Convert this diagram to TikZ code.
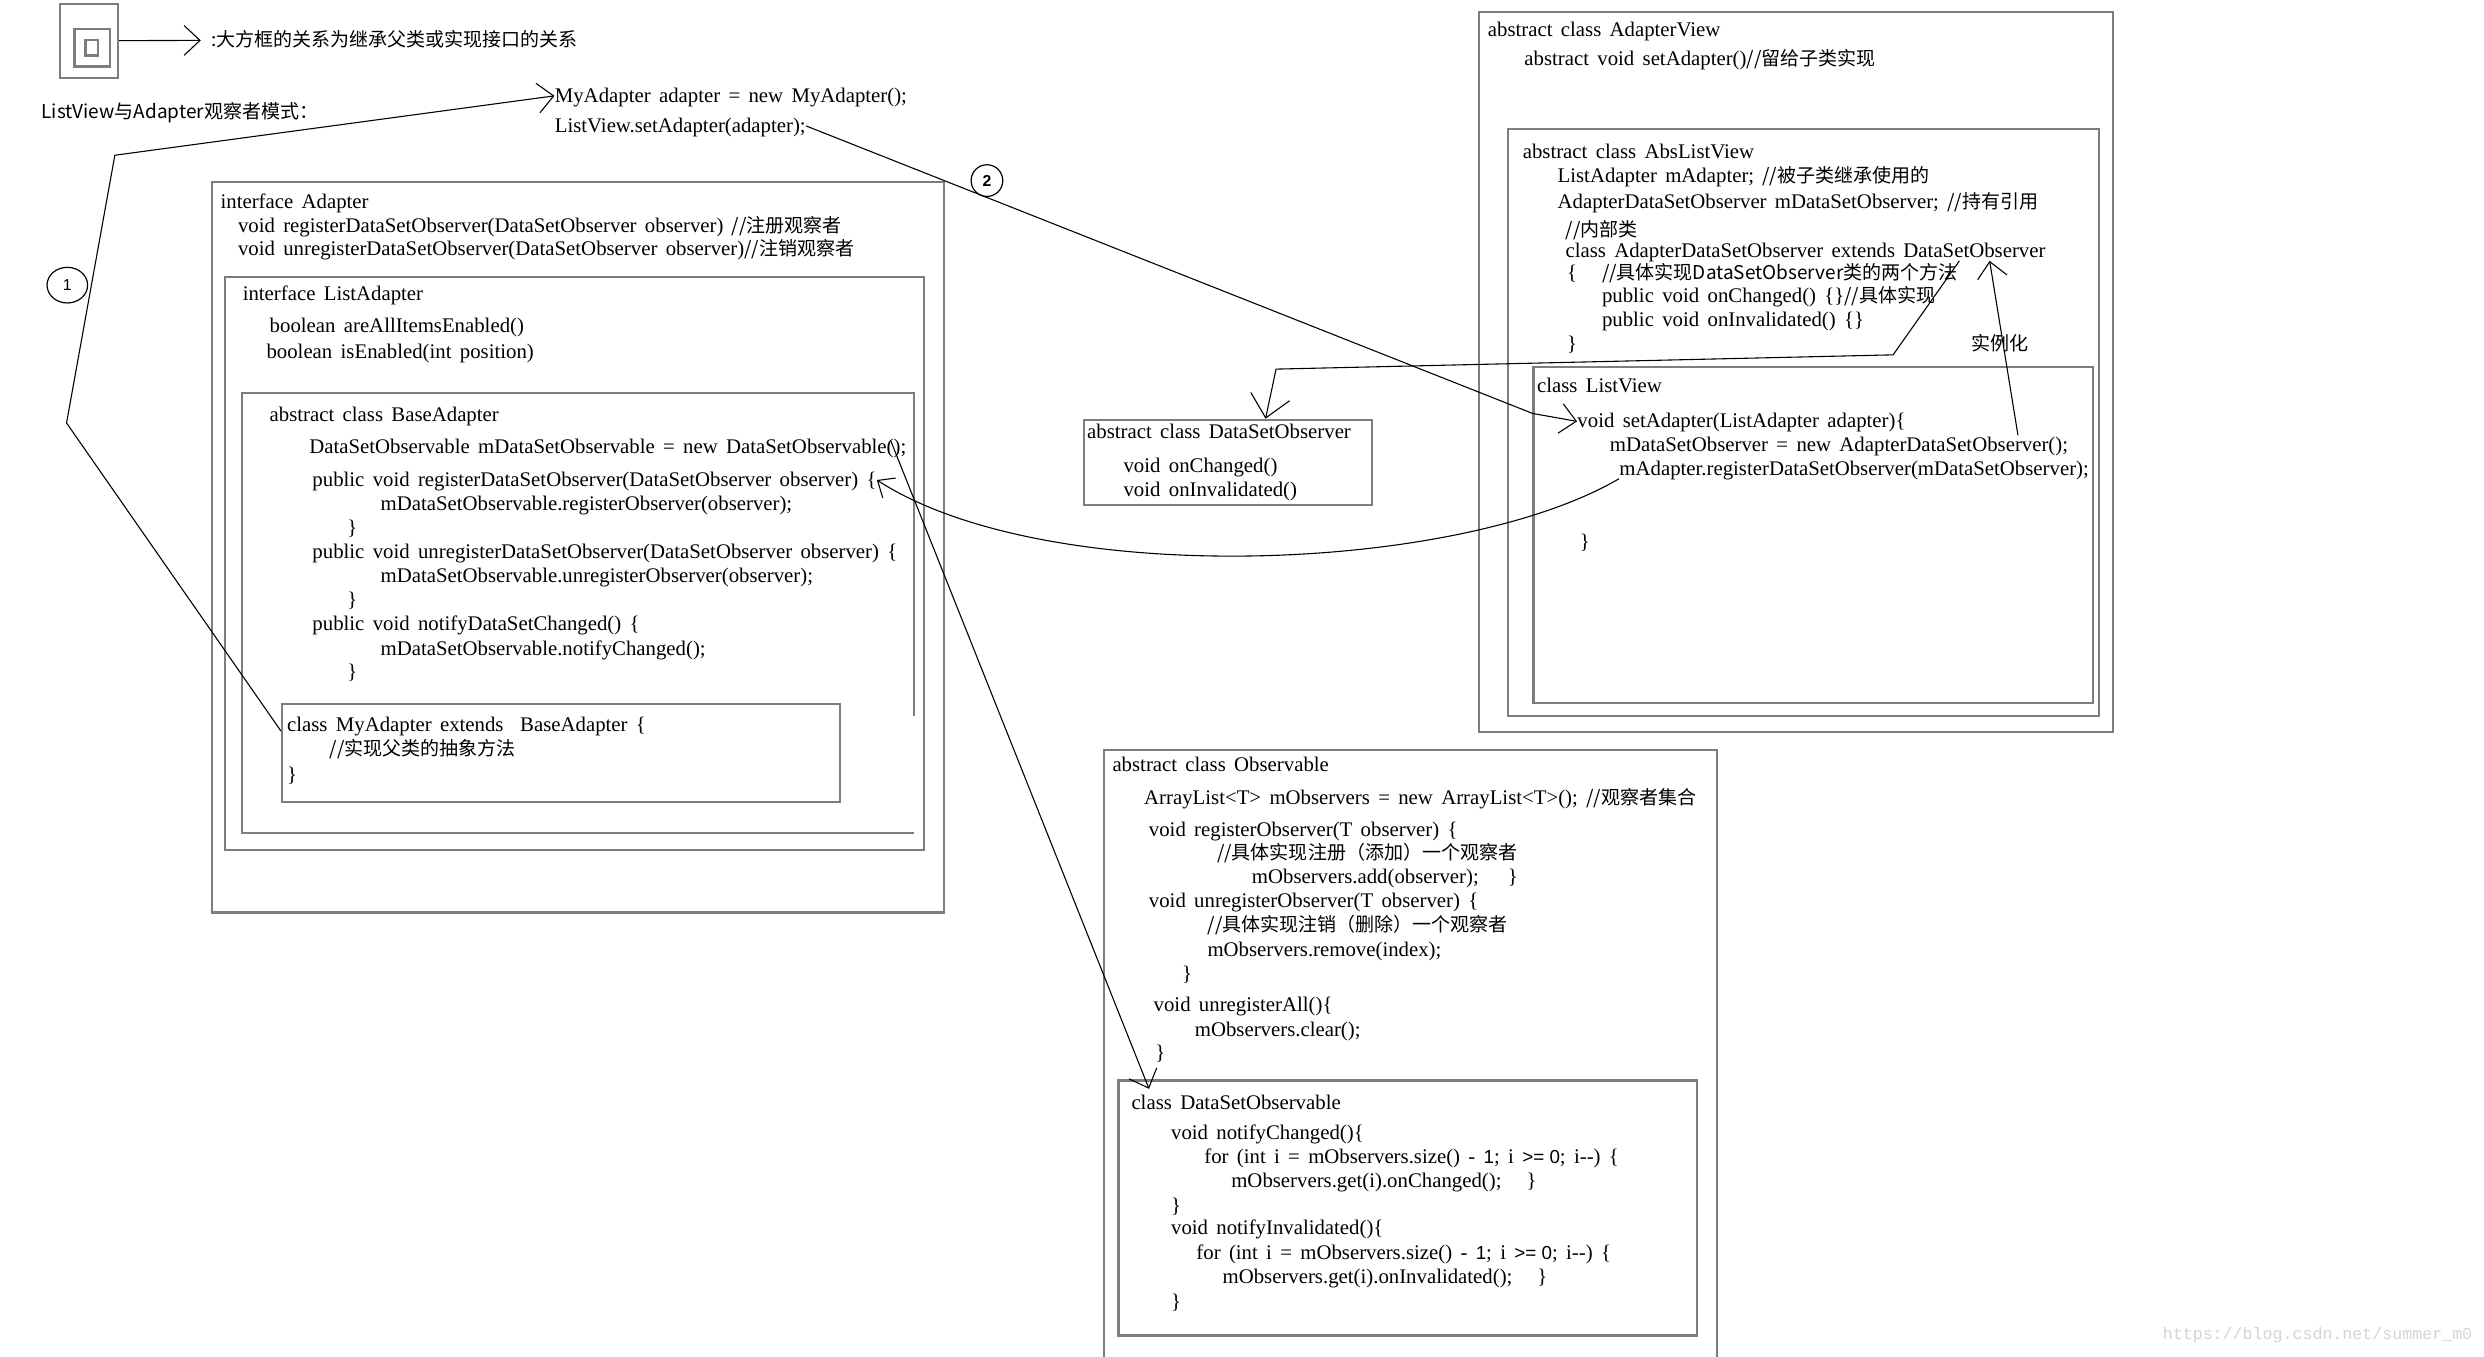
\documentclass[tikz,border=0pt]{standalone}
\usepackage{fontspec}
\setmainfont{Liberation Serif}[WordSpace=1.6]
\newfontfamily\cjk{Noto Sans CJK SC}
\newfontfamily\sansf{Liberation Sans}
\newfontfamily\monof{Liberation Mono}
\usetikzlibrary{arrows.meta,fit,calc,shapes.geometric}
\newcommand\zhtxt[1]{{\cjk\fontsize{9.6}{11}\selectfont #1}}
\newcommand\sfd[1]{{\sansf\fontsize{9.5}{11}\selectfont #1}}
\definecolor{boxgray}{RGB}{125,125,125}
\definecolor{wmgray}{RGB}{215,212,208}
\begin{document}
\begin{tikzpicture}[x=0.8pt,y=-0.8pt,
  gbox/.style={draw=boxgray, line width=1.1pt, inner sep=0pt},
  txt/.style={anchor=west, inner sep=0pt, text height=8pt, text depth=1.5pt, font=\fontsize{10.5}{12}\selectfont},
  conn/.style={draw=black, line width=0.55pt},
  barb/.style={-{Straight Barb[length=8pt,width=15pt]}},
  numc/.style={draw=black, line width=0.6pt, inner sep=0pt, font=\sansf\fontsize{8}{9}\selectfont}
]
\fill[white] (0,0) rectangle (1568,856);
\useasboundingbox (0,0) rectangle (1568,856);

% ---------- legend ----------
\node[gbox, fit={(38,2.3)(74.5,49)}] (legout) {};
\node[gbox, fit={(47,18.5)(69.6,42)}] (legmid) {};
\node[gbox, fit={(54,25)(62,35)}] (legin) {};
\node[txt] (legtxt) at (133,25.5) {\zhtxt{:大方框的关系为继承父类或实现接口的关系}};
\draw[conn,barb] (legout.east) -- ([xshift=-5pt]legtxt.west);

\node[txt] (title) at (26,71) {\zhtxt{ListView与Adapter观察者模式：}};
\node[txt] (tnewad) at (350,60.5) {MyAdapter adapter = new MyAdapter();};
\node[txt] (tsetad) at (350,79.5) {ListView.setAdapter(adapter);};

% ---------- Adapter hierarchy ----------
\node[gbox, fit={(134,115)(596,576)}] (adapterbox) {};
\node[gbox, fit={(142,175)(583.5,536.5)}] (listadbox) {};
\draw[gbox] (577,452) -- (577,248) -- (153,248) -- (153,526) -- (577,526);
\node[gbox, fit={(178,444.5)(530,506)}] (myadbox) {};

\node[txt] (tiad) at (139,127.5) {interface Adapter};
\node[txt] (tiad1) at (150,142.5) {void registerDataSetObserver(DataSetObserver observer) \zhtxt{//注册观察者}};
\node[txt] (tiad2) at (150,157.5) {void unregisterDataSetObserver(DataSetObserver observer)\zhtxt{//注销观察者}};

\node[txt] (tila) at (153,185.5) {interface ListAdapter};
\node[txt] (tila1) at (170,206) {boolean areAllItemsEnabled()};
\node[txt] (tila2) at (168,222.5) {boolean isEnabled(int position)};

\node[txt] (tba) at (170,262) {abstract class BaseAdapter};
\node[txt] (tdsonew) at (195,282.5) {DataSetObservable mDataSetObservable = new DataSetObservable();};
\node[txt] (treg) at (197,303) {public void registerDataSetObserver(DataSetObserver observer) \{};
\node[txt] (treg1) at (240,318.5) {mDataSetObservable.registerObserver(observer);};
\node[txt] (treg2) at (219,333.5) {\}};
\node[txt] (tunreg) at (197,348.5) {public void unregisterDataSetObserver(DataSetObserver observer) \{};
\node[txt] (tunreg1) at (240,363.5) {mDataSetObservable.unregisterObserver(observer);};
\node[txt] (tunreg2) at (219,378.5) {\}};
\node[txt] (tnotify) at (197,394) {public void notifyDataSetChanged() \{};
\node[txt] (tnotify1) at (240,409.5) {mDataSetObservable.notifyChanged();};
\node[txt] (tnotify2) at (219,424.5) {\}};

\node[txt] (tmya) at (181,458) {class MyAdapter extends\ \ BaseAdapter \{};
\node[txt] (tmya1) at (208,473) {\zhtxt{//实现父类的抽象方法}};
\node[txt] (tmya2) at (181,489) {\}};

% ---------- AdapterView hierarchy ----------
\node[gbox, fit={(933.5,7.4)(1334,462)}] (adviewbox) {};
\node[gbox, fit={(952,81.4)(1325,452)}] (abslvbox) {};
\node[gbox, fit={(968,231.5)(1321,444)}] (lvbox) {};

\node[txt] (tav) at (939,19) {abstract class AdapterView};
\node[txt] (tav1) at (962,37.5) {abstract void setAdapter()\zhtxt{//留给子类实现}};

\node[txt] (talv) at (961,96) {abstract class AbsListView};
\node[txt] (talv1) at (983,111) {ListAdapter mAdapter; \zhtxt{//被子类继承使用的}};
\node[txt] (talv2) at (983,127.5) {AdapterDataSetObserver mDataSetObserver; \zhtxt{//持有引用}};
\node[txt] (talv3) at (988,145) {\zhtxt{//内部类}};
\node[txt] (tadso) at (988,158.5) {class AdapterDataSetObserver extends DataSetObserver};
\node[txt] (talv4) at (989,172.5) {\{};
\node[txt] (talv5) at (1011,172.5) {\zhtxt{//具体实现DataSetObserver类的两个方法}};
\node[txt] (talv6) at (1011,187) {public void onChanged() \{\}\zhtxt{//具体实现}};
\node[txt] (talv7) at (1011,202) {public void onInvalidated() \{\}};
\node[txt] (talv8) at (989,217) {\}};
\node[txt] (tinst) at (1244,217) {\zhtxt{实例化}};

\node[txt] (tlv) at (970,244) {class ListView};
\node[txt] (tvoidset) at (995.5,266) {void setAdapter(ListAdapter adapter)\{};
\node[txt] (tmdso) at (1016,281) {mDataSetObserver = new AdapterDataSetObserver();};
\node[txt] (tmadreg) at (1022,296) {mAdapter.registerDataSetObserver(mDataSetObserver);};
\node[txt] (tlvend) at (997,342) {\}};

% ---------- DataSetObserver ----------
\node[gbox, fit={(684,265)(866,319)}] (dsobox) {};
\node[txt] (tdso) at (686,272.5) {abstract class DataSetObserver};
\node[txt] (tdso1) at (709,294.5) {void onChanged()};
\node[txt] (tdso2) at (709,309.5) {void onInvalidated()};

% ---------- Observable ----------
\draw[gbox] (697,857) -- (697,473.5) -- (1084,473.5) -- (1084,857);
\node[gbox, fit={(706,682)(1071,843)}] (dsoblebox) {};

\node[txt] (tobs) at (702,483) {abstract class Observable};
\node[txt] (tobs1) at (722,503.5) {ArrayList<T> mObservers = new ArrayList<T>(); \zhtxt{//观察者集合}};
\node[txt] (tobs2) at (725,524) {void registerObserver(T observer) \{};
\node[txt] (tobs3) at (768,538.5) {\zhtxt{//具体实现注册（添加）一个观察者}};
\node[txt] (tobs4) at (790,553.5) {mObservers.add(observer);\quad\ \}};
\node[txt] (tobs5) at (725,569) {void unregisterObserver(T observer) \{};
\node[txt] (tobs6) at (762,584) {\zhtxt{//具体实现注销（删除）一个观察者}};
\node[txt] (tobs7) at (762,600) {mObservers.remove(index);};
\node[txt] (tobs8) at (746,615) {\}};
\node[txt] (tobs9) at (728,634.5) {void unregisterAll()\{};
\node[txt] (tobs10) at (754,650) {mObservers.clear();};
\node[txt] (tobs11) at (729,665) {\}};

\node[txt] (tdsb) at (714,696) {class DataSetObservable};
\node[txt] (tdsb1) at (739,715) {void notifyChanged()\{};
\node[txt] (tdsb2) at (760,730.5) {for (int i = mObservers.size() - \sfd{1}; i \sfd{>= 0}; i-{}-) \{};
\node[txt] (tdsb3) at (777,745.5) {mObservers.get(i).onChanged();\ \ \ \}};
\node[txt] (tdsb4) at (739,761) {\}};
\node[txt] (tdsb5) at (739,775.5) {void notifyInvalidated()\{};
\node[txt] (tdsb6) at (755,791) {for (int i = mObservers.size() - \sfd{1}; i \sfd{>= 0}; i-{}-) \{};
\node[txt] (tdsb7) at (771.5,806) {mObservers.get(i).onInvalidated();\ \ \ \}};
\node[txt] (tdsb8) at (739,822) {\}};

% ---------- connectors ----------
% (1) MyAdapter class -> creation statement
\coordinate (c1a) at (72.5,98);
\coordinate (c1b) at (42,267);
\draw[conn,barb] ($(myadbox.north west)!0.28!(myadbox.south west)$) -- (c1b) -- (c1a) -- (tnewad.west);
\node[numc, ellipse, minimum width=20.5pt, minimum height=18pt] (n1) at (42.5,180) {1};

% (2) setAdapter call -> ListView.setAdapter
\coordinate (c2a) at (967.5,261);
\draw[conn,barb] (tsetad.east) -- (c2a) -- (tvoidset.west);
\node[numc, circle, minimum size=16pt, font=\sansf\bfseries\fontsize{8}{9}\selectfont] (n2) at (623,114) {2};

% AdapterDataSetObserver extends DataSetObserver
\coordinate (c3a) at (1195,224);
\coordinate (c3b) at (805.5,233);
\draw[conn,-{Straight Barb[length=11pt,width=20pt]}] ($(tadso.south west)!0.82!(tadso.south east)$) -- (c3a) -- (c3b) -- ($(dsobox.north west)!0.63!(dsobox.north east)$);

% instantiation
\draw[conn,barb] ($(tmdso.north west)!0.89!(tmdso.north east)$) -- ($(tadso.south west)!0.883!(tadso.south east)$);

% registerDataSetObserver call
\draw[conn,-{Straight Barb[length=7pt,width=12pt]}] (tmadreg.south west) .. controls (920,362) and (660,372) .. (treg.east);

% DataSetObservable instance -> class DataSetObservable
\draw[conn,barb] ($(tdsonew.north east)+(-10,2)$) -- ($(dsoblebox.north west)+(20,6)$);

% watermark
\node[anchor=west, inner sep=0pt, text=wmgray, font=\monof\fontsize{8.4}{10}\selectfont] (wm) at (1365,843) {https://blog.csdn.net/summer\_m0};
\end{tikzpicture}
\end{document}
